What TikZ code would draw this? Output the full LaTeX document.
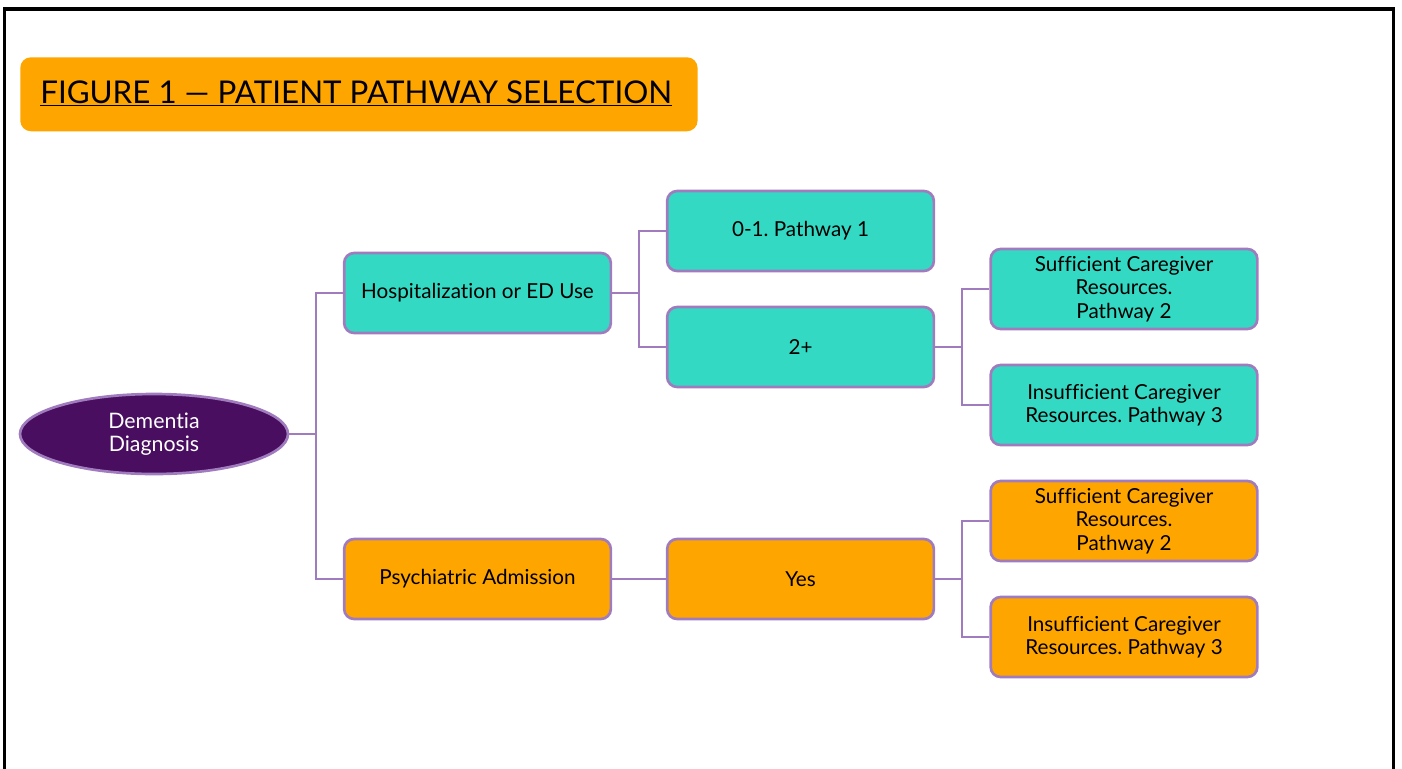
\documentclass[tikz,border=0pt]{standalone}
\usepackage{fontspec}
\setmainfont{Lato}[Ligatures=NoCommon]
\usetikzlibrary{shapes.geometric}

\definecolor{tealbox}{RGB}{51,217,195}
\definecolor{orangebox}{RGB}{255,165,0}
\definecolor{lilac}{RGB}{160,124,190}
\definecolor{plum}{RGB}{74,14,96}

\tikzset{
  pathbox/.style={draw=lilac, line width=2pt, rounded corners=7.5pt,
    minimum width=200pt, minimum height=60pt, align=center,
    font=\fontsize{15.5}{17.6}\selectfont, text=black},
  hospbox/.style={pathbox, fill=tealbox},
  psychbox/.style={pathbox, fill=orangebox},
  link/.style={draw=lilac, line width=1.6pt}
}

\begin{document}
\frenchspacing
\begin{tikzpicture}[x=0.75pt,y=0.75pt,yscale=-1,xscale=1]
\useasboundingbox (0,0) rectangle (1402,768);
%Shape: Frame
\draw [line width=2.4pt, color=black] (4.5,790) -- (4.5,9) -- (1393.5,9) -- (1393.5,790);
%Shape: Title banner
\node [fill=orangebox, rounded corners=8pt, minimum width=508pt, minimum height=55.5pt,
  anchor=north west, inner sep=0pt] (title) at (20,57) {};
\node [anchor=west, inner sep=0pt, font=\fontsize{23.5}{27}\selectfont] (titletext) at (40,93.5)
  {\underline{FIGURE 1 --- PATIENT PATHWAY SELECTION}};

%Shape: Ellipse
\node [ellipse, draw=lilac, line width=2pt, fill=plum, text=white, minimum width=201pt,
  minimum height=60pt, align=center, font=\fontsize{16}{17.6}\selectfont] (dementia) at (154,434)
  {Dementia\\Diagnosis};

%Shape: Rounded Rect
\node [hospbox] (hosp) at (477.5,293) {Hospitalization or ED Use};
\node [psychbox] (psych) at (477.5,579) {Psychiatric Admission};
\node [hospbox] (zeroone) at (800.5,231) {0-1. Pathway 1};
\node [hospbox] (twoplus) at (800.5,347) {2+};
\node [psychbox] (yes) at (800.5,579) {Yes};
\node [hospbox] (hsuff) at (1124,289) {Sufficient Caregiver\\Resources.\\Pathway 2};
\node [hospbox] (hinsuff) at (1124,405) {Insufficient Caregiver\\Resources. Pathway 3};
\node [psychbox] (psuff) at (1124,521) {Sufficient Caregiver\\Resources.\\Pathway 2};
\node [psychbox] (pinsuff) at (1124,637) {Insufficient Caregiver\\Resources. Pathway 3};

%Straight Lines
\draw [link] (dementia.east) -- (316,434) |- (hosp.west);
\draw [link] (316,434) |- (psych.west);
\draw [link] (hosp.east) -- (639,293) |- (zeroone.west);
\draw [link] (639,293) |- (twoplus.west);
\draw [link] (twoplus.east) -- (962,347) |- (hsuff.west);
\draw [link] (962,347) |- (hinsuff.west);
\draw [link] (psych.east) -- (yes.west);
\draw [link] (yes.east) -- (962,579) |- (psuff.west);
\draw [link] (962,579) |- (pinsuff.west);
\end{tikzpicture}
\end{document}
